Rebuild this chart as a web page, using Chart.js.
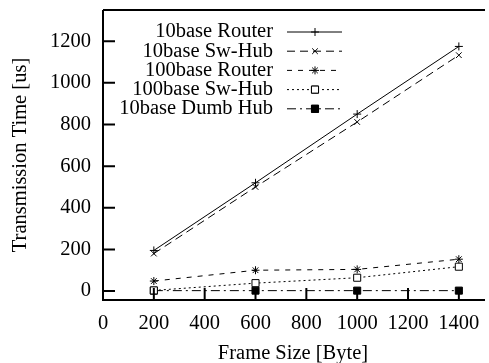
<!DOCTYPE html>
<html><head><meta charset="utf-8">
<script src="https://cdn.jsdelivr.net/npm/chart.js@4/dist/chart.umd.min.js"></script>
<style>html,body{margin:0;padding:0;background:#fff;}</style>
</head><body>
<canvas id="c" width="489" height="363"></canvas>
<script>
const frameSizes = [200, 600, 1000, 1400];
const router10 = [195, 520, 850, 1175];
const swhub10 = [180, 500, 812, 1133];
const router100 = [48, 100, 104, 153];
const swhub100 = [3, 38, 64, 117];
const dumbhub10 = [2, 2, 2, 2];
const seriesNames = ['10base Router', '10base Sw-Hub', '100base Router', '100base Sw-Hub', '10base Dumb Hub'];
const xTicks = [0, 200, 400, 600, 800, 1000, 1200, 1400];
const yTicks = [0, 200, 400, 600, 800, 1000, 1200];
const xTitle = 'Frame Size [Byte]';
const yTitle = 'Transmission Time [us]';

const FONT = '"Liberation Serif", "Times New Roman", serif';
const FS = 20.5;
Chart.defaults.font.family = FONT;
Chart.defaults.font.size = FS;
Chart.defaults.color = '#000';
const styles = [
  {dash: [], point: 'cross', r: 4, fill: '#000'},
  {dash: [8, 5], point: 'crossRot', r: 4, fill: '#000'},
  {dash: [5, 6], point: 'star', r: 4, fill: '#000'},
  {dash: [2, 3], point: 'rect', r: 5, fill: '#fff'},
  {dash: [9, 4, 2, 4], point: 'rect', r: 5, fill: '#000'}
];
const seriesValues = [router10, swhub10, router100, swhub100, dumbhub10];

const datasets = seriesValues.map((vals, i) => ({
  label: seriesNames[i],
  data: frameSizes.map((x, j) => ({x: x, y: vals[j]})),
  showLine: true,
  borderColor: '#000',
  borderWidth: 1,
  borderDash: styles[i].dash,
  pointStyle: styles[i].point,
  pointRadius: styles[i].r,
  pointBorderWidth: 1,
  pointBorderColor: '#000',
  pointBackgroundColor: styles[i].fill,
  tension: 0
}));

const framePlugin = {
  id: 'frame',
  afterDraw(chart) {
    const ctx = chart.ctx, a = chart.chartArea;
    const xs = chart.scales.x, ys = chart.scales.y;
    ctx.save();
    ctx.strokeStyle = '#000';
    ctx.lineWidth = 2;
    ctx.setLineDash([]);
    ctx.beginPath();
    ctx.moveTo(a.left, a.top); ctx.lineTo(a.left, a.bottom); ctx.lineTo(a.right + 2, a.bottom);
    ctx.moveTo(a.left, a.top); ctx.lineTo(a.right + 2, a.top);
    yTicks.forEach(v => { const y = ys.getPixelForValue(v); ctx.moveTo(a.left, y); ctx.lineTo(a.left + 12, y); });
    xTicks.forEach(v => { const x = xs.getPixelForValue(v); ctx.moveTo(x, a.bottom); ctx.lineTo(x, a.bottom - 12); });
    ctx.stroke();
    // legend
    ctx.font = FS + 'px ' + FONT;
    ctx.fillStyle = '#000';
    ctx.textAlign = 'right';
    ctx.textBaseline = 'middle';
    seriesNames.forEach((name, i) => {
      const y = 32 + i * 19.2;
      ctx.fillText(name, 273, y);
      ctx.lineWidth = 1;
      ctx.setLineDash(styles[i].dash);
      ctx.beginPath(); ctx.moveTo(287, y); ctx.lineTo(342, y); ctx.stroke();
      ctx.setLineDash([]);
      Chart.helpers.drawPoint(ctx, {pointStyle: styles[i].point, radius: styles[i].r, rotation: 0, borderWidth: 1}, 315, y);
      ctx.fillStyle = styles[i].fill;
      if (styles[i].point === 'rect') { ctx.beginPath(); const s = styles[i].r * Math.SQRT1_2; ctx.rect(315 - s, y - s, 2 * s, 2 * s); ctx.fill(); ctx.stroke(); }
      ctx.fillStyle = '#000';
    });
    ctx.restore();
  }
};

new Chart(document.getElementById('c'), {
  type: 'scatter',
  data: {datasets},
  options: {
    responsive: false,
    animation: false,
    devicePixelRatio: 1,
    layout: {padding: {top: 10, right: 0, left: 0, bottom: 0}},
    plugins: {legend: {display: false}, tooltip: {enabled: false}},
    scales: {
      x: {
        type: 'linear', min: 0, max: 1495,
        afterBuildTicks: s => { s.ticks = xTicks.map(v => ({value: v})); },
        afterFit: s => { s.height = 63; s.paddingLeft = 0; s.paddingRight = 0; },
        grid: {display: false, drawTicks: false},
        border: {display: false},
        ticks: {color: '#000', font: {family: FONT, size: FS}, padding: 11, maxRotation: 0, autoSkip: false, callback: v => String(v)},
        title: {display: true, text: xTitle, color: '#000', font: {family: FONT, size: FS}, padding: {top: 0, bottom: -3}}
      },
      y: {
        type: 'linear', min: -43, max: 1350,
        afterBuildTicks: s => { s.ticks = yTicks.map(v => ({value: v})); },
        afterFit: s => { s.width = 103; s.paddingTop = 0; s.paddingBottom = 0; },
        grid: {display: false, drawTicks: false},
        border: {display: false},
        ticks: {color: '#000', font: {family: FONT, size: FS}, padding: 12, autoSkip: false, callback: v => String(v)},
        title: {display: true, text: yTitle, color: '#000', font: {family: FONT, size: FS}, padding: {top: 8, bottom: 0}}
      }
    }
  },
  plugins: [framePlugin]
});
</script>
</body></html>
